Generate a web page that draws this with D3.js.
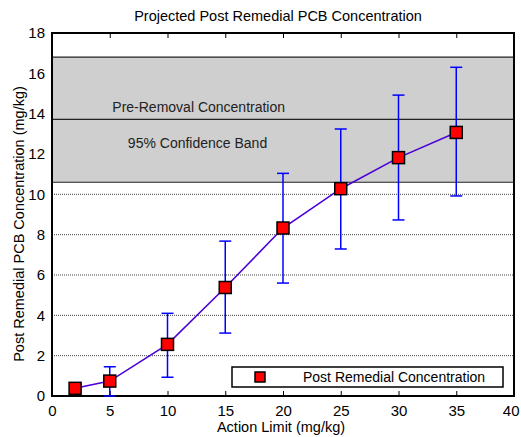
<html>
<head>
<meta charset="utf-8">
<title>Projected Post Remedial PCB Concentration</title>
<style>
  body { margin: 0; background: #fff; }
  text { font-family: "Liberation Sans", Arial, sans-serif; fill: #000; }
</style>
</head>
<body>
<script src="https://cdn.jsdelivr.net/npm/d3@7"></script>
<script>
var width = 521, height = 437;
var margin = {top: 33, right: 7, bottom: 41, left: 52};

// data
var actionLimit = [2, 5, 10, 15, 20, 25, 30, 35];
var concentration = [0.38, 0.74, 2.56, 5.38, 8.33, 10.28, 11.82, 13.07];
var errLow = [0.22, 0, 0.93, 3.12, 5.6, 7.29, 8.73, 9.92];
var errHigh = [0.55, 1.45, 4.1, 7.68, 11.04, 13.24, 14.92, 16.3];
var bandLow = 10.6, bandMid = 13.72, bandHigh = 16.8;
var xTicks = [0, 5, 10, 15, 20, 25, 30, 35, 40];
var yTicks = [0, 2, 4, 6, 8, 10, 12, 14, 16, 18];
var gridVals = [2, 4, 6, 8, 10];

var svg = d3.select('body').append('svg')
    .attr('width', width)
    .attr('height', height);

var x = d3.scaleLinear().domain([0, 40]).range([margin.left, width - margin.right]);
var y = d3.scaleLinear().domain([0, 18]).range([height - margin.bottom, margin.top]);

var pts = actionLimit.map(function(d, i) {
    return {x: d, y: concentration[i], lo: errLow[i], hi: errHigh[i]};
});

// dotted grid
svg.append('g').selectAll('line')
    .data(gridVals).enter().append('line')
    .attr('x1', x(0)).attr('x2', x(40))
    .attr('y1', function(d) { return y(d); })
    .attr('y2', function(d) { return y(d); })
    .attr('stroke', '#444')
    .attr('stroke-width', 1)
    .attr('stroke-dasharray', '1,1');

// confidence band
svg.append('rect')
    .attr('x', x(0)).attr('width', x(40) - x(0))
    .attr('y', y(bandHigh)).attr('height', y(bandLow) - y(bandHigh))
    .attr('fill', '#cfcfcf');
svg.append('g').selectAll('line')
    .data([bandLow, bandMid, bandHigh]).enter().append('line')
    .attr('x1', x(0)).attr('x2', x(40))
    .attr('y1', function(d) { return y(d); })
    .attr('y2', function(d) { return y(d); })
    .attr('stroke', '#222')
    .attr('stroke-width', 1.2);

svg.append('text')
    .attr('x', x(12.7)).attr('y', y(14.1))
    .attr('text-anchor', 'middle')
    .style('font-size', '14px').style('fill', '#222')
    .text('Pre-Removal Concentration');
svg.append('text')
    .attr('x', x(12.6)).attr('y', y(12.3))
    .attr('text-anchor', 'middle')
    .style('font-size', '14px').style('fill', '#222')
    .text('95% Confidence Band');

// axes
var xAxis = d3.axisBottom(x).tickValues(xTicks).tickSize(-5).tickPadding(9);
var gx = svg.append('g')
    .attr('transform', 'translate(0,' + y(0) + ')')
    .call(xAxis);
gx.select('.domain').remove();
gx.selectAll('text').style('font-size', '15px');
// keep the last label inside the window
gx.selectAll('text').filter(function(d) { return d === 40; })
    .attr('text-anchor', 'end').attr('dx', '5px');

var gxTop = svg.append('g')
    .attr('transform', 'translate(0,' + y(18) + ')')
    .call(d3.axisTop(x).tickValues(xTicks).tickSize(-5).tickFormat(''));
gxTop.select('.domain').remove();

var yAxis = d3.axisLeft(y).tickValues(yTicks).tickSize(0).tickPadding(7);
var gy = svg.append('g')
    .attr('transform', 'translate(' + x(0) + ',0)')
    .call(yAxis);
gy.select('.domain').remove();
gy.selectAll('text').style('font-size', '15px');

// frame
svg.append('rect')
    .attr('x', x(0)).attr('y', y(18))
    .attr('width', x(40) - x(0)).attr('height', y(0) - y(18))
    .attr('fill', 'none')
    .attr('stroke', '#000')
    .attr('stroke-width', 2);

// error bars
var eb = svg.append('g').selectAll('g')
    .data(pts).enter().append('g')
    .attr('stroke', '#0000ff')
    .attr('stroke-width', 1.5);
eb.append('line')
    .attr('x1', function(d) { return x(d.x); })
    .attr('x2', function(d) { return x(d.x); })
    .attr('y1', function(d) { return y(d.lo); })
    .attr('y2', function(d) { return y(d.hi); });
eb.append('line')
    .attr('x1', function(d) { return x(d.x) - 6; })
    .attr('x2', function(d) { return x(d.x) + 6; })
    .attr('y1', function(d) { return y(d.hi); })
    .attr('y2', function(d) { return y(d.hi); });
eb.append('line')
    .attr('x1', function(d) { return x(d.x) - 6; })
    .attr('x2', function(d) { return x(d.x) + 6; })
    .attr('y1', function(d) { return y(d.lo); })
    .attr('y2', function(d) { return y(d.lo); });

// line
var line = d3.line()
    .x(function(d) { return x(d.x); })
    .y(function(d) { return y(d.y); });
svg.append('path')
    .datum(pts)
    .attr('d', line)
    .attr('fill', 'none')
    .attr('stroke', '#4a00d8')
    .attr('stroke-width', 1.6);

// markers
svg.append('g').selectAll('rect')
    .data(pts).enter().append('rect')
    .attr('x', function(d) { return x(d.x) - 6; })
    .attr('y', function(d) { return y(d.y) - 6; })
    .attr('width', 12).attr('height', 12)
    .attr('fill', '#ff0000')
    .attr('stroke', '#000')
    .attr('stroke-width', 1.5);

// legend
var lg = svg.append('g');
lg.append('rect')
    .attr('x', 232).attr('y', 367).attr('width', 271).attr('height', 20)
    .attr('fill', '#fff').attr('stroke', '#000').attr('stroke-width', 1.5);
lg.append('rect')
    .attr('x', 255).attr('y', 372).attr('width', 10).attr('height', 10)
    .attr('fill', '#ff0000').attr('stroke', '#000').attr('stroke-width', 1.5);
lg.append('text')
    .attr('x', 303).attr('y', 382)
    .style('font-size', '14px')
    .text('Post Remedial Concentration');

// titles
svg.append('text')
    .attr('x', 278).attr('y', 21)
    .attr('text-anchor', 'middle')
    .style('font-size', '14.5px')
    .text('Projected Post Remedial PCB Concentration');
svg.append('text')
    .attr('x', 281).attr('y', 432)
    .attr('text-anchor', 'middle')
    .style('font-size', '14.5px')
    .text('Action Limit (mg/kg)');
svg.append('text')
    .attr('transform', 'translate(24,' + 224 + ') rotate(-90)')
    .attr('text-anchor', 'middle')
    .style('font-size', '14.5px')
    .text('Post Remedial PCB Concentration (mg/kg)');
</script>
</body>
</html>
